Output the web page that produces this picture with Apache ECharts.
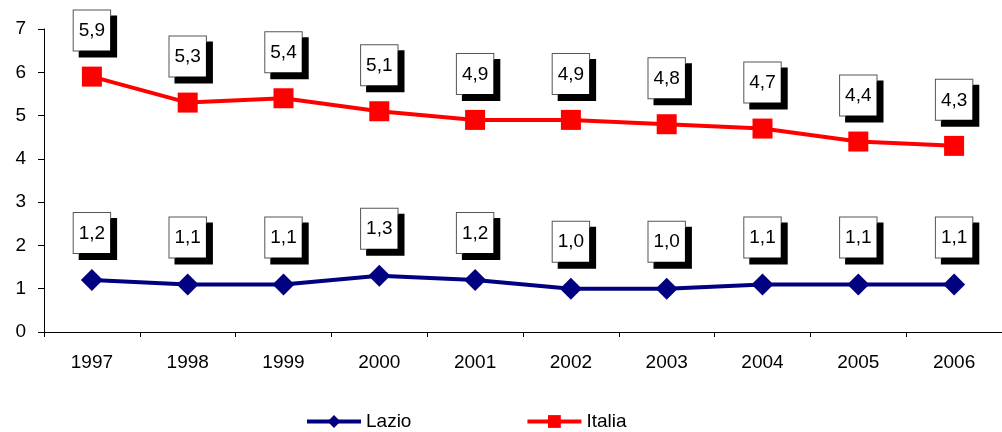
<!DOCTYPE html>
<html><head><meta charset="utf-8">
<script src="https://cdn.jsdelivr.net/npm/echarts@6/dist/echarts.min.js"></script>
<style>html,body{margin:0;padding:0;background:#fff}#c{width:1002px;height:432px}</style>
</head><body><div id="c"></div>
<script>
const years = ['1997','1998','1999','2000','2001','2002','2003','2004','2005','2006'];
const lazio = [1.2,1.1,1.1,1.3,1.2,1.0,1.0,1.1,1.1,1.1];
const italia = [5.9,5.3,5.4,5.1,4.9,4.9,4.8,4.7,4.4,4.3];

const fmt = p => p.value.toFixed(1).replace('.', ',');
const lbl = {
  show: true, position: 'top', distance: 16, formatter: fmt,
  fontFamily: 'Liberation Sans, Arial', fontSize: 19, color: '#000',
  backgroundColor: '#fff', borderColor: '#555', borderWidth: 1,
  padding: [11, 5, 10, 5],
  shadowColor: '#000', shadowOffsetX: 6, shadowOffsetY: 6, shadowBlur: 0
};
const chart = echarts.init(document.getElementById('c'));
chart.setOption({
  animation: false,
  grid: { left: 44, top: 29, width: 967, height: 303 },
  xAxis: {
    type: 'category', data: years, boundaryGap: true,
    axisLine: { lineStyle: { color: '#000', width: 1 } },
    axisTick: { show: true, length: 5, lineStyle: { color: '#000' } },
    axisLabel: { fontFamily: 'Liberation Sans, Arial', fontSize: 19, color: '#000', margin: 21 }
  },
  yAxis: {
    type: 'value', min: 0, max: 7, interval: 1,
    splitLine: { show: false },
    axisLine: { show: true, lineStyle: { color: '#000', width: 1 } },
    axisTick: { show: true, length: 6, lineStyle: { color: '#000' } },
    axisLabel: { fontFamily: 'Liberation Sans, Arial', fontSize: 19, color: '#000', margin: 18 }
  },
  legend: {
    bottom: -4, left: 300, itemWidth: 54, itemHeight: 16, itemGap: 114,
    lineStyle: { width: 4 },
    textStyle: { fontFamily: 'Liberation Sans, Arial', fontSize: 19, color: '#000' },
    data: ['Lazio', 'Italia']
  },
  series: [
    { name: 'Lazio', type: 'line', data: lazio, symbol: 'diamond', symbolSize: 22,
      lineStyle: { color: '#000080', width: 4 }, itemStyle: { color: '#000080' }, label: lbl },
    { name: 'Italia', type: 'line', data: italia, symbol: 'rect', symbolSize: 20,
      lineStyle: { color: '#ff0000', width: 4 }, itemStyle: { color: '#ff0000' }, label: lbl }
  ]
});
</script></body></html>
